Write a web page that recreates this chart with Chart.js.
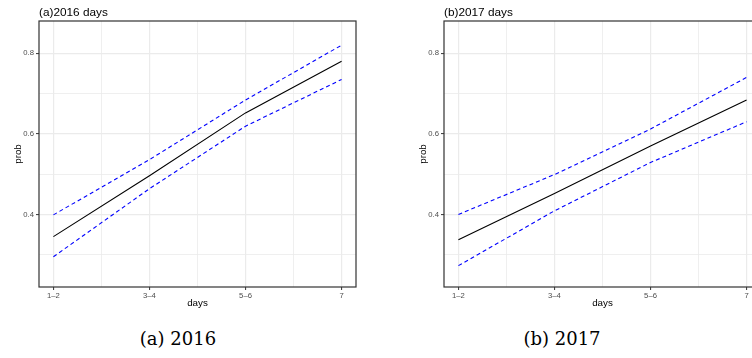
<!DOCTYPE html>
<html>
<head>
<meta charset="utf-8">
<script src="https://cdn.jsdelivr.net/npm/chart.js@4.4.0/dist/chart.umd.min.js"></script>
<style>
  html, body { margin: 0; padding: 0; background: #fff; }
  body { width: 752px; height: 358px; overflow: hidden; position: relative; }
  .panel { position: absolute; top: 0; width: 370px; height: 310px; }
  .caption {
    position: absolute; top: 328px; transform: translateX(-50%);
    font-family: "DejaVu Serif", serif; font-size: 18px; color: #000; white-space: nowrap;
  }
</style>
</head>
<body>
<div class="panel" style="left:0"><canvas id="c2016" width="370" height="310"></canvas></div>
<div class="panel" style="left:405px"><canvas id="c2017" width="370" height="310"></canvas></div>
<div class="caption" style="left:178px">(a) 2016</div>
<div class="caption" style="left:562px">(b) 2017</div>
<script>
const categories = ['1–2', '3–4', '5–6', '7'];
const yLabels = ['0.4', '0.6', '0.8'];

// fitted probability with upper / lower bands
const fit2016 = [0.345, 0.496, 0.652, 0.780];
const upper2016 = [0.399, 0.536, 0.684, 0.820];
const lower2016 = [0.295, 0.464, 0.619, 0.735];

const fit2017 = [0.337, 0.452, 0.570, 0.684];
const upper2017 = [0.400, 0.499, 0.612, 0.740];
const lower2017 = [0.273, 0.409, 0.529, 0.630];

const FONT = '"Liberation Sans", Arial, sans-serif';

const isYMajor = v => yLabels.some(l => Math.abs(Number(l) - v) < 1e-6);
const isXMajor = v => Math.abs(v - Math.round(v)) < 1e-6;

const toPoints = vals => vals.map((y, i) => ({ x: i, y: y }));

// panel border + title text above the plot area
const panelFrame = {
  id: 'panelFrame',
  afterDraw(chart, args, opts) {
    const { ctx, chartArea: a } = chart;
    ctx.save();
    ctx.strokeStyle = '#333333';
    ctx.lineWidth = 1.2;
    ctx.strokeRect(a.left, a.top, a.right - a.left, a.bottom - a.top);
    ctx.fillStyle = '#000';
    ctx.font = '11.8px ' + FONT;
    ctx.textAlign = 'left';
    ctx.textBaseline = 'alphabetic';
    ctx.fillText(opts.text, a.left, a.top - 5.5);
    ctx.restore();
  }
};

function makeChart(id, title, fit, upper, lower) {
  const band = (data) => ({
    data: toPoints(data),
    borderColor: '#0000FF',
    borderWidth: 1.1,
    borderDash: [4, 3],
    pointRadius: 0,
    showLine: true,
    tension: 0
  });

  return new Chart(document.getElementById(id), {
    type: 'scatter',
    data: {
      datasets: [
        { data: toPoints(fit), borderColor: '#000', borderWidth: 1.1, pointRadius: 0, showLine: true, tension: 0 },
        band(upper),
        band(lower)
      ]
    },
    options: {
      responsive: false,
      animation: false,
      devicePixelRatio: 1,
      layout: { padding: { top: 21, right: 14, left: 0, bottom: 0 } },
      plugins: {
        legend: { display: false },
        tooltip: { enabled: false },
        panelFrame: { text: title }
      },
      scales: {
        x: {
          type: 'linear',
          min: -0.15,
          max: 3.15,
          afterBuildTicks: scale => {
            const ticks = [];
            for (let i = 0; i <= 6; i++) ticks.push({ value: i / 2 });
            scale.ticks = ticks;
          },
          afterFit: scale => { scale.height = 23; },
          border: { display: false },
          grid: {
            color: '#EBEBEB',
            lineWidth: c => isXMajor(c.tick.value) ? 1.2 : 0.8,
            tickColor: c => isXMajor(c.tick.value) ? '#333333' : 'rgba(0,0,0,0)',
            tickLength: 3,
            tickWidth: 1
          },
          ticks: {
            autoSkip: false,
            maxRotation: 0,
            padding: 1,
            color: '#4D4D4D',
            font: { family: FONT, size: 7.7 },
            callback: v => isXMajor(v) ? categories[Math.round(v)] : ''
          },
          title: {
            display: true,
            text: 'days',
            color: '#000',
            font: { family: FONT, size: 9.8 },
            padding: { top: 0, bottom: 1 }
          }
        },
        y: {
          min: 0.22,
          max: 0.88,
          afterBuildTicks: scale => {
            const ticks = [];
            for (let i = 3; i <= 8; i++) ticks.push({ value: i / 10 });
            scale.ticks = ticks;
          },
          afterFit: scale => { scale.width = 39; },
          border: { display: false },
          grid: {
            color: '#EBEBEB',
            lineWidth: c => isYMajor(c.tick.value) ? 1.2 : 0.8,
            tickColor: c => isYMajor(c.tick.value) ? '#333333' : 'rgba(0,0,0,0)',
            tickLength: 3,
            tickWidth: 1
          },
          ticks: {
            autoSkip: false,
            padding: 2,
            color: '#4D4D4D',
            font: { family: FONT, size: 7.7 },
            callback: v => yLabels.find(l => Math.abs(Number(l) - v) < 1e-6) || ''
          },
          title: {
            display: true,
            text: 'prob',
            color: '#000',
            font: { family: FONT, size: 9.8 },
            padding: { top: 12, bottom: 0 }
          }
        }
      }
    },
    plugins: [panelFrame]
  });
}

makeChart('c2016', '(a)2016 days', fit2016, upper2016, lower2016);
makeChart('c2017', '(b)2017 days', fit2017, upper2017, lower2017);
</script>
</body>
</html>
